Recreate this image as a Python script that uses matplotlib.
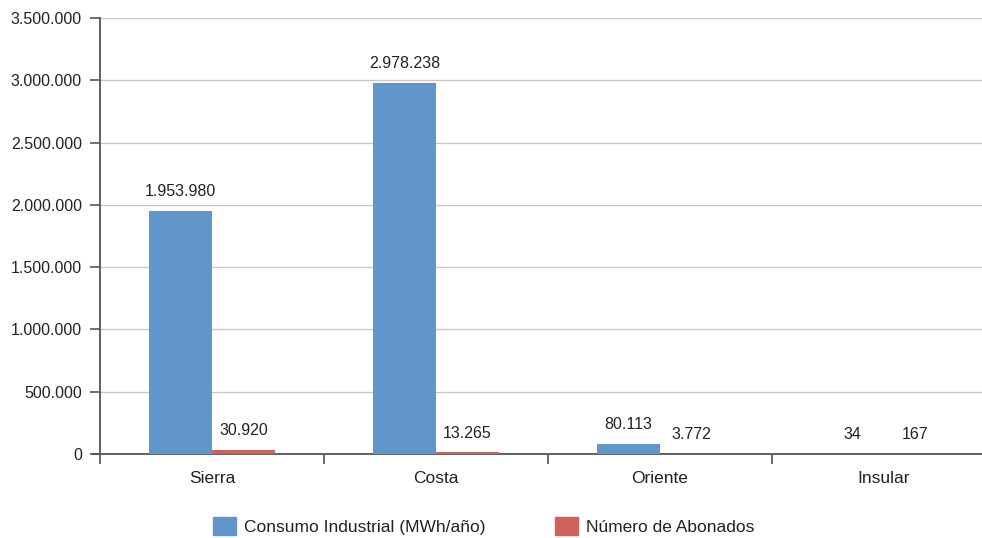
import numpy as np
import matplotlib.pyplot as plt
from matplotlib.patches import Patch

regiones = ['Sierra', 'Costa', 'Oriente', 'Insular']
consumo = [1953980, 2978238, 80113, 34]
abonados = [30920, 13265, 3772, 167]

azul = '#6096c9'
rojo = '#d0625b'

plt.rcParams['font.family'] = ['Liberation Sans', 'DejaVu Sans']

def miles(v):
    return f'{v:,.0f}'.replace(',', '.')

fig = plt.figure(figsize=(9.82, 5.38), dpi=100)
# axes run past the right edge of the figure, so the grid is clipped there
ax = fig.add_axes([100 / 982, (538 - 454) / 538, 896 / 982, 436 / 538])

x = np.arange(len(regiones))
w = 0.28
b1 = ax.bar(x - w / 2, consumo, w, color=azul, zorder=3)
b2 = ax.bar(x + w / 2, abonados, w, color=rojo, zorder=3)

for rect, v in zip(b1, consumo):
    ax.text(rect.get_x() + rect.get_width() / 2, v + 95000, miles(v),
            ha='center', va='bottom', fontsize=11.5, color='#222222')
for rect, v in zip(b2, abonados):
    ax.text(rect.get_x() + rect.get_width() / 2, v + 95000, miles(v),
            ha='center', va='bottom', fontsize=11.5, color='#222222')

ax.set_xlim(-0.5, len(regiones) - 0.5)
ax.set_ylim(0, 3500000)
ax.set_yticks(np.arange(0, 3500001, 500000))
ax.set_yticklabels([miles(v) for v in np.arange(0, 3500001, 500000)])
ax.yaxis.grid(True, color='#c8c8c8', linewidth=1, zorder=0)

ax.set_xticks(np.arange(-0.5, len(regiones), 1.0))
ax.set_xticklabels([])
ax.set_xticks(x, minor=True)
ax.set_xticklabels(regiones, minor=True)
ax.tick_params(axis='x', which='major', length=7, width=1.2, color='#555555', direction='out')
ax.tick_params(axis='x', which='minor', length=0, pad=12, labelsize=12.5, labelcolor='#222222')
ax.tick_params(axis='y', length=7, width=1.2, color='#555555', labelsize=11.5,
               labelcolor='#222222', pad=6)

for s in ['top', 'right']:
    ax.spines[s].set_visible(False)
ax.spines['left'].set_color('#555555')
ax.spines['left'].set_linewidth(1.3)
ax.spines['bottom'].set_color('#555555')
ax.spines['bottom'].set_linewidth(1.3)
ax.spines['bottom'].set_bounds(-0.53, len(regiones) - 0.5)

handles = [Patch(color=azul, label='Consumo Industrial (MWh/año)'),
           Patch(color=rojo, label='Número de Abonados')]
fig.legend(handles=handles, loc='center left', bbox_to_anchor=(213 / 982, 1 - 526 / 538),
           ncol=2, frameon=False, fontsize=12.5, handlelength=1.3, handleheight=1.3,
           columnspacing=4.0, handletextpad=0.5, labelcolor='#222222',
           borderaxespad=0, borderpad=0)

fig.savefig('out.png', dpi=100)
